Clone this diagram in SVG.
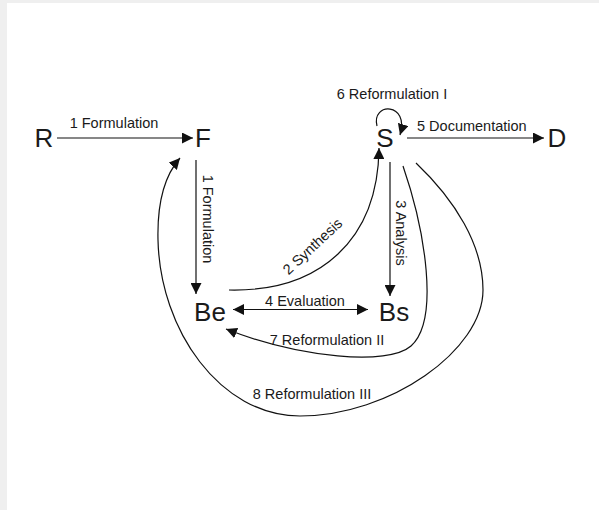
<svg xmlns="http://www.w3.org/2000/svg" width="599" height="510" viewBox="0 0 599 510">
<defs>
<style>
.node{font-family:"Liberation Sans",Arial,sans-serif;font-size:26px;fill:#1a1a1a;text-anchor:middle}
.lbl{font-family:"Liberation Sans",Arial,sans-serif;font-size:14.5px;fill:#1a1a1a}
.c{fill:none;stroke:#111;stroke-width:1.2}
</style>
<marker id="ah" markerUnits="userSpaceOnUse" markerWidth="11" markerHeight="11" viewBox="0 0 10 10" refX="10" refY="5" orient="auto">
<path d="M0,0 L10,5 L0,10 z" fill="#111"/>
</marker>
<marker id="as" markerUnits="userSpaceOnUse" markerWidth="11" markerHeight="11" viewBox="0 0 10 10" refX="10" refY="5" orient="auto-start-reverse">
<path d="M0,0 L10,5 L0,10 z" fill="#111"/>
</marker>
</defs>
<rect x="0" y="0" width="599" height="510" fill="#efefef"/>
<rect x="7" y="3" width="592" height="507" fill="#ffffff"/>

<g id="connectors">
<line class="c" x1="57" y1="138" x2="193" y2="138" marker-end="url(#ah)"/>
<text class="lbl" x="114" y="128" text-anchor="middle">1 Formulation</text>

<line class="c" x1="196" y1="160" x2="196" y2="294" marker-end="url(#ah)"/>
<text class="lbl" x="203" y="219" text-anchor="middle" transform="rotate(90 203 219)">1 Formulation</text>

<path class="c" d="M229,290 C320,292 378,240 379,148" marker-end="url(#ah)"/>
<text class="lbl" x="316" y="250" text-anchor="middle" transform="rotate(-43 316 250)">2 Synthesis</text>

<line class="c" x1="390" y1="162" x2="390" y2="296" marker-end="url(#ah)"/>
<text class="lbl" x="396" y="233" text-anchor="middle" transform="rotate(90 396 233)">3 Analysis</text>

<line class="c" x1="233" y1="309.5" x2="368" y2="309.5" marker-start="url(#as)" marker-end="url(#ah)"/>
<text class="lbl" x="305" y="306" text-anchor="middle">4 Evaluation</text>

<line class="c" x1="407" y1="138" x2="544" y2="138" marker-end="url(#ah)"/>
<text class="lbl" x="417" y="131">5 Documentation</text>

<path class="c" d="M377,126 C371,102 410,102 400,135" marker-end="url(#ah)"/>
<text class="lbl" x="392" y="99" text-anchor="middle">6 Reformulation I</text>

<path class="c" d="M403,166 C425,230 440,320 411,346 C388,366 300,358 226,329" marker-end="url(#ah)"/>
<text class="lbl" x="327" y="345" text-anchor="middle">7 Reformulation II</text>

<path class="c" d="M416,163 C455,200 483,245 483,290 C483,350 390,416 300,416 C220,416 160,330 158,240 C157,200 165,175 180,158" marker-end="url(#ah)"/>
<text class="lbl" x="312" y="399" text-anchor="middle">8 Reformulation III</text>
</g>

<g id="node-R"><text class="node" x="44" y="147">R</text></g>
<g id="node-F"><text class="node" x="203" y="147">F</text></g>
<g id="node-S"><text class="node" x="385" y="147">S</text></g>
<g id="node-D"><text class="node" x="557" y="147">D</text></g>
<g id="node-Be"><text class="node" x="210" y="321">Be</text></g>
<g id="node-Bs"><text class="node" x="394" y="321">Bs</text></g>
</svg>
